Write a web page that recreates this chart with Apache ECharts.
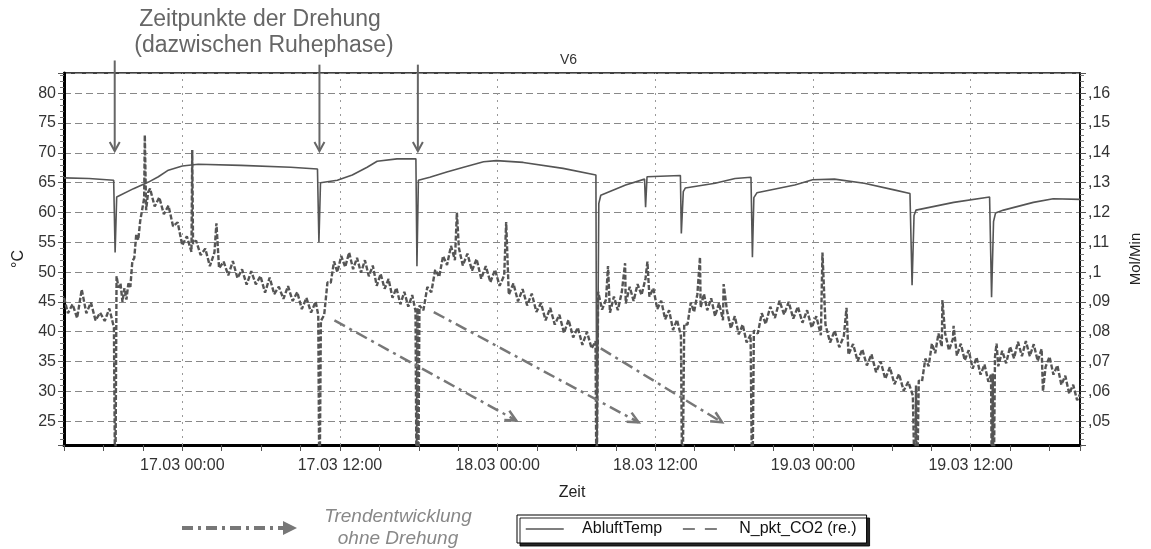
<!DOCTYPE html>
<html>
<head>
<meta charset="utf-8">
<script src="https://cdn.jsdelivr.net/npm/echarts@6/dist/echarts.min.js"></script>
<style>
  html, body { margin: 0; padding: 0; background: #fff; }
  #chart { width: 1151px; height: 549px; }
</style>
</head>
<body>
<div id="chart"></div>
<script>
// Zeit in Stunden relativ zu 17.03 00:00
const hourMin = -9
const hourMax = 68.32
const tempMin = 21
const tempMax = 83.4
const co2Min = 0.042
const co2Max = 0.1668

// senkrechte Gitterlinien (alle 12 h)
const gitterStunden = [0, 12, 24, 36, 48, 60]

// AbluftTemp (°C, linke Achse)
const abluftTemp = [
  [-9, 65.8], [-7.1, 65.7], [-5.22, 65.4], [-5.11, 53.3], [-4.99, 62.6], [-4.84, 62.9],
  [-3.71, 64.0], [-2.57, 65.1], [-1.82, 66.0], [-1.06, 67.1], [0, 67.8], [1.21, 68.1],
  [4.46, 67.9], [8.25, 67.6], [10.29, 67.3], [10.4, 55.0], [10.52, 65.0], [11.8, 65.4],
  [12.94, 66.3], [14.07, 67.6], [14.83, 68.6], [16.34, 69.0], [17.78, 69.0], [17.86, 51.0],
  [17.97, 65.4], [18.84, 65.9], [20.13, 66.8], [21.41, 67.6], [22.93, 68.5], [23.91, 68.7],
  [25.95, 68.4], [28.98, 67.4], [31.48, 66.3], [31.55, 15], [31.7, 61.5], [31.85, 62.9],
  [33.74, 64.6], [35.18, 65.6], [35.26, 60.9], [35.37, 66.0], [37.91, 66.2], [37.98, 56.5],
  [38.13, 63.5], [38.28, 64.1], [40.55, 64.9], [42.07, 65.7], [43.28, 65.9], [43.39, 52.5],
  [43.5, 62.5], [43.73, 63.3], [46.61, 64.6], [47.97, 65.5], [49.63, 65.6], [51.9, 64.9],
  [54.17, 63.8], [55.38, 63.2], [55.54, 47.8], [55.69, 59.5], [55.84, 60.4], [58.71, 61.7],
  [61.44, 62.6], [61.59, 45.8], [61.74, 58.5], [61.89, 59.9], [62.5, 60.4], [64.77, 61.7],
  [66.28, 62.3], [68.32, 62.2]
]

// N_pkt_CO2 (Mol/Min, rechte Achse)
const co2 = [
  [-9, 0.0914], [-8.7, 0.0862], [-8.35, 0.0892], [-8.0, 0.0846], [-7.65, 0.0942], [-7.3, 0.0862],
  [-6.95, 0.0898], [-6.6, 0.0838], [-6.25, 0.0864], [-5.9, 0.0836], [-5.55, 0.0878], [-5.2, 0.0814],
  [-5.1, 0.02],
  [-5.0, 0.0986], [-4.85, 0.0948], [-4.7, 0.0962], [-4.55, 0.0900], [-4.4, 0.0946], [-4.25, 0.0908],
  [-4.1, 0.0962], [-3.95, 0.0950], [-3.8, 0.1036], [-3.65, 0.1048], [-3.5, 0.1128], [-3.35, 0.1108],
  [-3.2, 0.1172], [-3.05, 0.1178], [-2.9, 0.1248], [-2.85, 0.146], [-2.75, 0.1208], [-2.6, 0.1268],
  [-2.45, 0.1280], [-2.1, 0.1220], [-1.75, 0.1251], [-1.4, 0.1194], [-1.05, 0.1223], [-0.7, 0.1154],
  [-0.35, 0.1167], [0, 0.1090], [0.35, 0.1120], [0.7, 0.1068], [0.76, 0.141], [0.82, 0.1095],
  [1.05, 0.1106], [1.4, 0.1057], [1.75, 0.1079], [2.1, 0.1020], [2.45, 0.1066], [2.6, 0.1164],
  [2.8, 0.1013], [3.15, 0.1035], [3.5, 0.0989], [3.85, 0.1037], [4.2, 0.0980], [4.55, 0.1009],
  [4.9, 0.0958], [5.25, 0.1003], [5.6, 0.0959], [5.95, 0.0987], [6.3, 0.0931], [6.65, 0.0982],
  [7.0, 0.0926], [7.35, 0.0951], [7.7, 0.0910], [8.05, 0.0953], [8.4, 0.0903], [8.75, 0.0933],
  [9.1, 0.0876], [9.45, 0.0914], [9.8, 0.0864], [10.15, 0.0901], [10.35, 0.0856],
  [10.44, 0.02],
  [10.55, 0.0836], [10.8, 0.0856], [11.05, 0.0966], [11.3, 0.0964], [11.55, 0.1036], [11.8, 0.1000],
  [12.1, 0.1054], [12.4, 0.1017], [12.7, 0.1066], [13.0, 0.1010], [13.3, 0.1048], [13.6, 0.0998],
  [13.9, 0.1040], [14.2, 0.0986], [14.5, 0.1022], [14.8, 0.0954], [15.1, 0.0994], [15.4, 0.0944],
  [15.7, 0.0977], [16.0, 0.0914], [16.3, 0.0947], [16.6, 0.0892], [16.9, 0.0934], [17.2, 0.0884],
  [17.5, 0.0923], [17.75, 0.0870],
  [17.84, 0.02], [17.9, 0.088], [17.95, 0.02],
  [18.05, 0.0888], [18.35, 0.0872], [18.65, 0.0950], [18.95, 0.0932], [19.25, 0.1008], [19.55, 0.0984],
  [19.85, 0.1054], [20.15, 0.1024], [20.45, 0.1088], [20.75, 0.1040], [20.9, 0.120], [21.05, 0.1082],
  [21.35, 0.1022], [21.7, 0.1062], [22.05, 0.1005], [22.4, 0.1044], [22.75, 0.0978], [23.1, 0.1020],
  [23.45, 0.0966], [23.8, 0.1008], [24.15, 0.0954], [24.5, 0.0989], [24.65, 0.1168], [24.85, 0.0924],
  [25.2, 0.0962], [25.55, 0.0902], [25.9, 0.0943], [26.25, 0.0888], [26.6, 0.0928], [26.95, 0.0866],
  [27.3, 0.0896], [27.65, 0.0838], [28.0, 0.0880], [28.35, 0.0824], [28.7, 0.0857], [29.05, 0.0796],
  [29.4, 0.0840], [29.75, 0.0781], [30.1, 0.0814], [30.45, 0.0756], [30.8, 0.0800], [31.15, 0.0744],
  [31.45, 0.0768],
  [31.53, 0.02],
  [31.65, 0.0934], [31.95, 0.0874], [32.25, 0.0908], [32.4, 0.102], [32.55, 0.0864], [32.85, 0.0918],
  [33.15, 0.0872], [33.45, 0.0933], [33.7, 0.103], [33.75, 0.0895], [34.05, 0.0951], [34.35, 0.0903],
  [34.65, 0.0960], [34.95, 0.0923], [35.25, 0.0977], [35.4, 0.1035], [35.55, 0.0918], [35.85, 0.0946],
  [36.15, 0.0876], [36.45, 0.0904], [36.75, 0.0842], [37.05, 0.0872], [37.35, 0.0806], [37.65, 0.0840],
  [37.95, 0.0786],
  [38.06, 0.02],
  [38.2, 0.0826], [38.45, 0.0824], [38.7, 0.0898], [38.95, 0.0866], [39.2, 0.0926], [39.4, 0.105],
  [39.45, 0.0882], [39.7, 0.0927], [39.95, 0.0872], [40.25, 0.0912], [40.55, 0.0852], [40.85, 0.0896],
  [41.15, 0.0839], [41.2, 0.096], [41.45, 0.0872], [41.75, 0.0811], [42.05, 0.0852], [42.35, 0.0791],
  [42.65, 0.0824], [42.95, 0.0764], [43.25, 0.0790],
  [43.38, 0.02],
  [43.5, 0.0804], [43.8, 0.0794], [44.1, 0.0862], [44.4, 0.0826], [44.75, 0.0884], [45.1, 0.0846],
  [45.45, 0.0904], [45.8, 0.0858], [46.15, 0.0900], [46.5, 0.0844], [46.85, 0.0884], [47.2, 0.0830],
  [47.55, 0.0872], [47.9, 0.0814], [48.25, 0.0852], [48.6, 0.0788], [48.72, 0.1066], [48.95, 0.0824],
  [49.3, 0.0764], [49.65, 0.0804], [50.0, 0.0748], [50.35, 0.0786], [50.55, 0.088], [50.7, 0.0723],
  [51.05, 0.0759], [51.4, 0.0701], [51.75, 0.0741], [52.1, 0.0687], [52.45, 0.0724], [52.8, 0.0664],
  [53.15, 0.0700], [53.5, 0.0642], [53.85, 0.0681], [54.2, 0.0624], [54.55, 0.0658], [54.9, 0.0602],
  [55.25, 0.0632], [55.6, 0.0586],
  [55.78, 0.02], [55.84, 0.062], [55.9, 0.02],
  [56.05, 0.0636], [56.3, 0.0634], [56.55, 0.0710], [56.8, 0.0684], [57.05, 0.0760], [57.3, 0.0728],
  [57.55, 0.0794], [57.8, 0.0750], [57.85, 0.0906], [58.05, 0.0796], [58.35, 0.0738], [58.65, 0.0776],
  [58.7, 0.082], [58.95, 0.0720], [59.25, 0.0760], [59.55, 0.0704], [59.85, 0.0738], [60.15, 0.0676],
  [60.45, 0.0714], [60.75, 0.0656], [61.05, 0.0690], [61.35, 0.0632], [61.55, 0.0656],
  [61.62, 0.02], [61.68, 0.066], [61.74, 0.02],
  [61.85, 0.0716], [61.97, 0.076], [62.1, 0.0684], [62.4, 0.0736], [62.7, 0.0694], [63.0, 0.0750],
  [63.3, 0.0711], [63.6, 0.0766], [63.9, 0.0718], [64.2, 0.0769], [64.5, 0.0718], [64.8, 0.0758],
  [65.1, 0.0702], [65.4, 0.0742], [65.5, 0.060], [65.7, 0.0682], [66.0, 0.0716], [66.3, 0.0656],
  [66.6, 0.0687], [66.9, 0.0622], [67.2, 0.0652], [67.5, 0.0592], [67.8, 0.0622], [68.1, 0.0570],
  [68.32, 0.0590]
]

// Zeitpunkte der Drehung (Pfeile oben): Stunde, Pfeilanfang °C, Pfeilspitze °C
const drehungen = [
  [-5.14, 85.5, 70.3],
  [10.44, 84.8, 70.3],
  [17.93, 84.8, 70.3]
]

// Trendentwicklung ohne Drehung: Start (h, °C) -> Ende (h, °C)
const trendPfeile = [
  [11.58, 41.9, 25.42, 25.1],
  [19.14, 43.3, 34.73, 24.8],
  [31.85, 37.2, 41.08, 24.8]
]

const pad = n => (n < 10 ? '0' : '') + n
const FONT = 'Liberation Sans, Arial, sans-serif'

const chart = echarts.init(document.getElementById('chart'))

const option = {
  animation: false,
  color: ['#555', '#555'],
  textStyle: { fontFamily: FONT },
  title: {
    text: 'V6', left: 555, top: 48,
    textStyle: { fontSize: 14, fontWeight: 'normal', color: '#333', fontFamily: FONT }
  },
  grid: {
    left: 64, right: 64, top: 73, bottom: 104,
    show: true, borderColor: '#000', borderWidth: 1.5
  },
  legend: {
    left: 517, top: 515,
    padding: [6, 10, 6, 8],
    itemWidth: 38, itemHeight: 14, itemGap: 20,
    backgroundColor: '#fff', borderColor: '#000', borderWidth: 1,
    shadowColor: 'rgba(0,0,0,0.85)', shadowBlur: 0, shadowOffsetX: 3, shadowOffsetY: 3,
    itemStyle: { opacity: 0 },
    textStyle: { fontSize: 16, color: '#111', fontFamily: FONT },
    formatter: name => '   ' + name,
    data: [
      { name: 'AbluftTemp', lineStyle: { type: 'solid', width: 1.5 } },
      { name: 'N_pkt_CO2 (re.)', lineStyle: { type: [12, 10], width: 1.5 } }
    ]
  },
  xAxis: {
    type: 'value',
    min: hourMin, max: hourMax, interval: 3,
    name: 'Zeit', nameLocation: 'middle', nameGap: 40,
    nameTextStyle: { fontSize: 16, color: '#222' },
    axisLine: { show: true, onZero: false, lineStyle: { color: '#000', width: 3 } },
    axisTick: { show: true, length: 6, lineStyle: { color: '#555' } },
    axisLabel: {
      color: '#333', fontSize: 16, margin: 13, hideOverlap: false,
      formatter: v => {
        if (Math.abs(v % 12) > 1e-6) return ''
        const day = 17 + Math.floor(v / 24)
        const hr = ((v % 24) + 24) % 24
        return day + '.03 ' + pad(hr) + ':00'
      }
    },
    splitLine: { show: false }
  },
  yAxis: [
    {
      type: 'value', min: tempMin, max: tempMax, splitNumber: 12,
      name: '°C', nameLocation: 'middle', nameGap: 37,
      nameTextStyle: { fontSize: 16, color: '#222' },
      axisLine: { show: true, onZero: false, lineStyle: { color: '#000', width: 3 } },
      axisTick: { show: true, length: 6, lineStyle: { color: '#555' } },
      minorTick: { show: true, splitNumber: 5, length: 4, lineStyle: { color: '#777' } },
      axisLabel: {
        color: '#333', fontSize: 16, margin: 8,
        formatter: v => (Math.abs(v % 5) < 1e-6 ? String(v) : '')
      },
      splitLine: { show: true, lineStyle: { color: '#888', width: 1, type: [7, 4] } }
    },
    {
      type: 'value', min: co2Min, max: co2Max, splitNumber: 12, position: 'right',
      name: 'Mol/Min', nameLocation: 'middle', nameGap: 48,
      nameTextStyle: { fontSize: 15, color: '#222' },
      axisLine: { show: true, onZero: false, lineStyle: { color: '#000', width: 1.5 } },
      axisTick: { show: true, length: 6, lineStyle: { color: '#555' } },
      minorTick: { show: true, splitNumber: 5, length: 4, lineStyle: { color: '#777' } },
      axisLabel: {
        color: '#333', fontSize: 16, margin: 8,
        formatter: v => {
          const r = Math.round(v * 100)
          if (Math.abs(v * 100 - r) > 1e-6) return ''
          return ',' + String(r / 100).replace(/^0\./, '')
        }
      },
      splitLine: { show: false }
    }
  ],
  graphic: [
    {
      type: 'text', x: 260, y: 20,
      style: { text: 'Zeitpunkte der Drehung', fill: '#666', font: '23px ' + FONT, textAlign: 'center', textVerticalAlign: 'middle' }
    },
    {
      type: 'text', x: 264, y: 46,
      style: { text: '(dazwischen Ruhephase)', fill: '#666', font: '23px ' + FONT, textAlign: 'center', textVerticalAlign: 'middle' }
    },
    {
      type: 'line', shape: { x1: 182, y1: 528, x2: 284, y2: 528 },
      style: { stroke: '#777', lineWidth: 4, lineDash: [11, 5, 3, 5] }
    },
    {
      type: 'polygon', shape: { points: [[283, 521], [297, 528], [283, 535]] },
      style: { fill: '#777' }
    },
    {
      type: 'text', x: 398, y: 517,
      style: { text: 'Trendentwicklung', fill: '#888', font: 'italic 19px ' + FONT, textAlign: 'center', textVerticalAlign: 'middle' }
    },
    {
      type: 'text', x: 398, y: 539,
      style: { text: 'ohne Drehung', fill: '#888', font: 'italic 19px ' + FONT, textAlign: 'center', textVerticalAlign: 'middle' }
    }
  ],
  series: [
    {
      name: 'AbluftTemp', type: 'line', yAxisIndex: 0,
      data: abluftTemp,
      symbol: 'none', z: 3,
      lineStyle: { color: '#555', width: 1.6 },
      markLine: {
        silent: true, symbol: 'none', z: 1,
        label: { show: false },
        lineStyle: { color: '#999', width: 1, type: [2, 5] },
        data: gitterStunden.map(h => ({ xAxis: h }))
      }
    },
    {
      name: 'N_pkt_CO2 (re.)', type: 'line', yAxisIndex: 1,
      data: co2,
      symbol: 'none', z: 2,
      lineStyle: { color: '#555', width: 2.4, type: [5, 2] }
    },
    {
      type: 'custom', yAxisIndex: 0, clip: false, silent: true, z: 5,
      encode: { x: 0, y: [1, 2] },
      data: drehungen,
      renderItem: (params, api) => {
        const top = api.coord([api.value(0), api.value(1)])
        const tip = api.coord([api.value(0), api.value(2)])
        return {
          type: 'group',
          children: [
            { type: 'line', shape: { x1: top[0], y1: top[1], x2: tip[0], y2: tip[1] }, style: { stroke: '#666', lineWidth: 2 } },
            { type: 'polyline', shape: { points: [[tip[0] - 5, tip[1] - 9], tip, [tip[0] + 5, tip[1] - 9]] }, style: { stroke: '#666', lineWidth: 2, fill: null } }
          ]
        }
      }
    },
    {
      type: 'custom', yAxisIndex: 0, clip: false, silent: true, z: 4,
      encode: { x: [0, 2], y: [1, 3] },
      data: trendPfeile,
      renderItem: (params, api) => {
        const p0 = api.coord([api.value(0), api.value(1)])
        const p1 = api.coord([api.value(2), api.value(3)])
        const a = Math.atan2(p1[1] - p0[1], p1[0] - p0[0])
        const len = 12
        const w1 = [p1[0] - len * Math.cos(a - 0.45), p1[1] - len * Math.sin(a - 0.45)]
        const w2 = [p1[0] - len * Math.cos(a + 0.45), p1[1] - len * Math.sin(a + 0.45)]
        return {
          type: 'group',
          children: [
            { type: 'line', shape: { x1: p0[0], y1: p0[1], x2: p1[0], y2: p1[1] }, style: { stroke: '#777', lineWidth: 2.5, lineDash: [12, 5, 3, 5] } },
            { type: 'polyline', shape: { points: [w1, p1, w2] }, style: { stroke: '#777', lineWidth: 2.5, fill: null } }
          ]
        }
      }
    }
  ]
}

chart.setOption(option)
window.addEventListener('resize', () => chart.resize())
</script>
</body>
</html>
